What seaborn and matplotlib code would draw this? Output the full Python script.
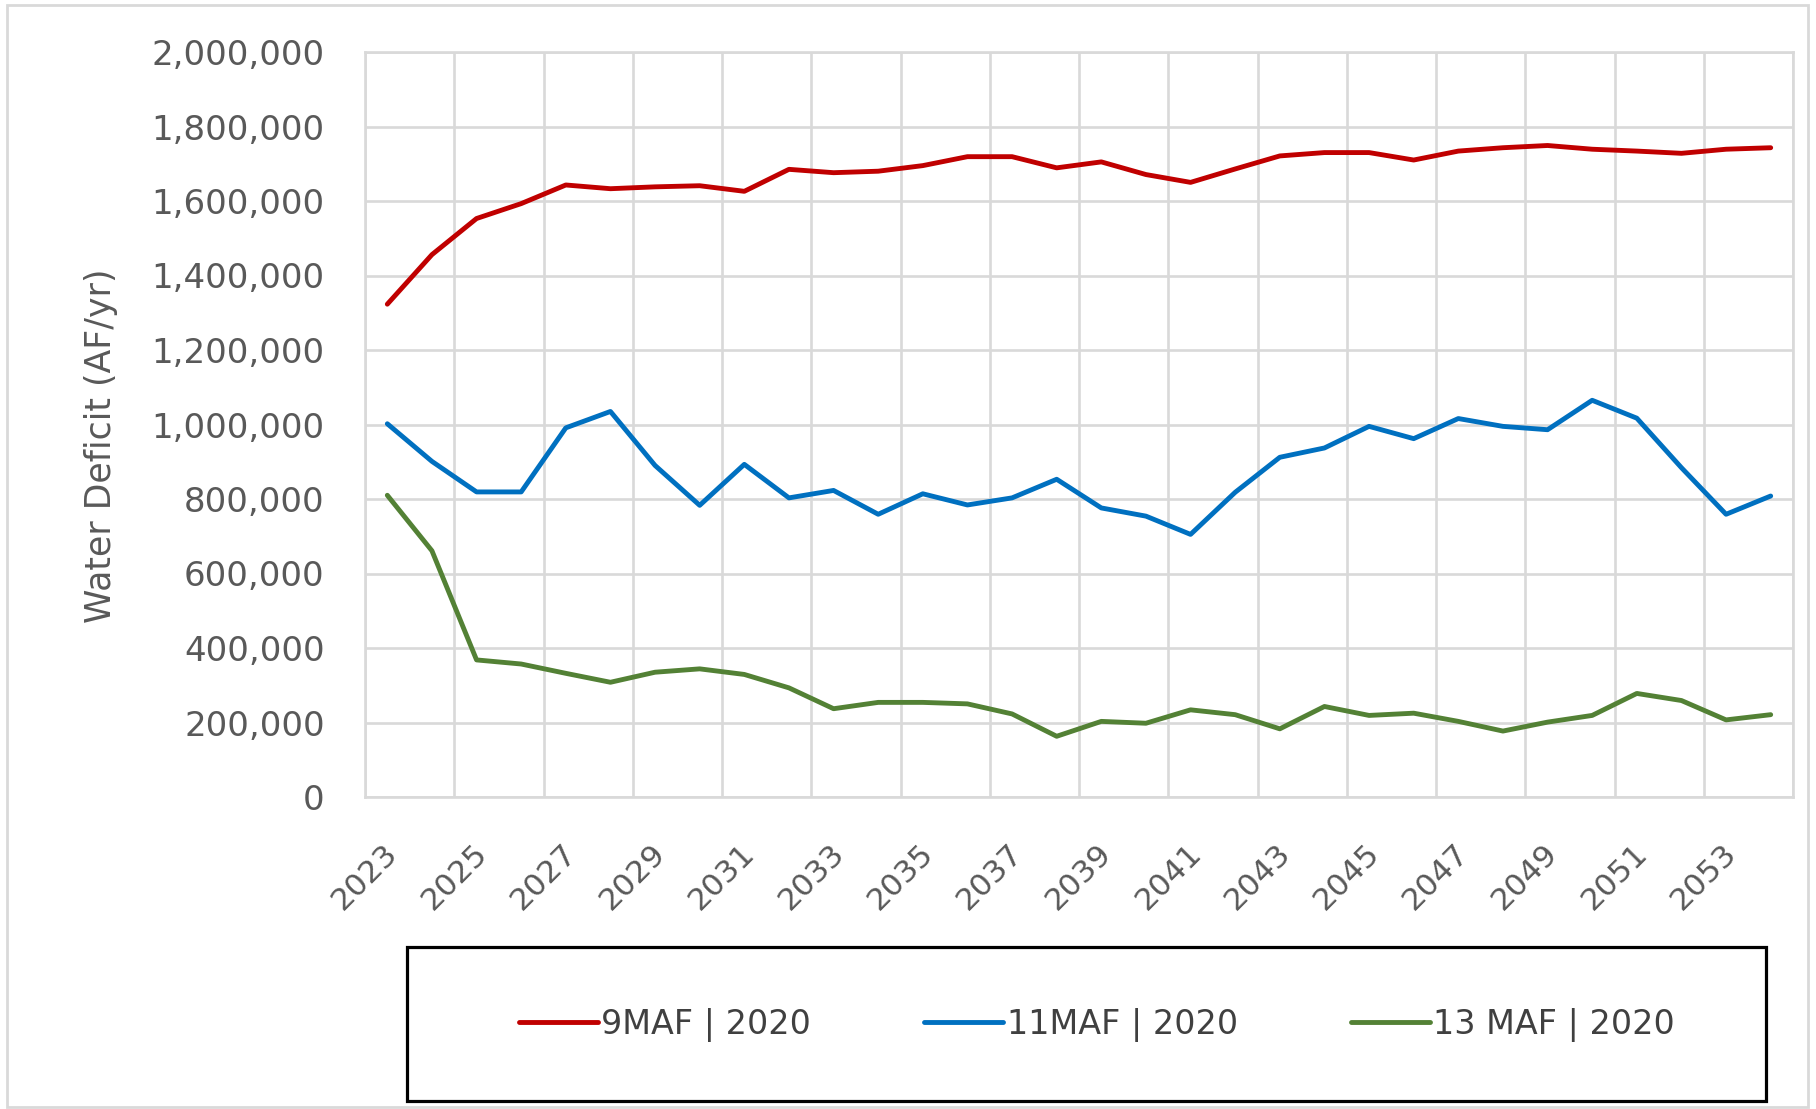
import matplotlib
matplotlib.use("Agg")
import matplotlib.pyplot as plt
import matplotlib.ticker as mticker
import matplotlib.transforms as mtransforms
from matplotlib.patches import Rectangle
import seaborn as sns
import pandas as pd
import numpy as np

# ---------------- data ----------------
years = list(range(2023, 2055))

maf9 = [1323000, 1456000, 1553000, 1593000, 1643000, 1633000, 1638000, 1641000,
        1626000, 1685000, 1676000, 1680000, 1695000, 1719000, 1719000, 1689000,
        1705000, 1671000, 1650000, 1686000, 1721000, 1730000, 1730000, 1710000,
        1734000, 1743000, 1749000, 1739000, 1734000, 1728000, 1739000, 1743000]

maf11 = [1002000, 901000, 819000, 819000, 991000, 1035000, 890000, 783000,
         893000, 803000, 823000, 759000, 814000, 784000, 803000, 853000,
         776000, 754000, 705000, 818000, 912000, 937000, 995000, 962000,
         1016000, 995000, 986000, 1065000, 1017000, 884000, 759000, 808000]

maf13 = [810000, 661000, 368000, 357000, 332000, 308000, 335000, 344000,
         329000, 293000, 237000, 254000, 254000, 250000, 223000, 163000,
         203000, 198000, 234000, 221000, 183000, 243000, 219000, 225000,
         203000, 177000, 201000, 219000, 278000, 259000, 207000, 221000]

series_names = ["9MAF | 2020", "11MAF | 2020", "13 MAF | 2020"]
series_colors = ["#C00000", "#0070C0", "#538135"]
y_ticks = list(range(0, 2000001, 200000))
x_tick_years = list(range(2023, 2054, 2))

df = pd.DataFrame({
    "year": years * 3,
    "value": maf9 + maf11 + maf13,
    "series": [series_names[0]] * len(years) + [series_names[1]] * len(years)
              + [series_names[2]] * len(years),
})

# ---------------- style ----------------
sns.set_style("white")
plt.rcParams["font.family"] = ["DejaVu Sans"]

W, H = 1816, 1109
fig = plt.figure(figsize=(W / 100, H / 100), dpi=100)
fig.patch.set_facecolor("white")

# outer light border
fig.add_artist(Rectangle((7 / W, 1 - 1107 / H), (1808 - 7) / W, (1107 - 5) / H,
                         transform=fig.transFigure, fill=False,
                         edgecolor="#D9D9D9", linewidth=2.0, zorder=0))

L, R, T, B = 365, 1793, 52, 797
ax = fig.add_axes([L / W, 1 - B / H, (R - L) / W, (B - T) / H])

sns.lineplot(data=df, x="year", y="value", hue="series",
             hue_order=series_names, palette=dict(zip(series_names, series_colors)),
             linewidth=3.5, ax=ax, legend=True, zorder=3)

handles, labels = ax.get_legend_handles_labels()
ax.get_legend().remove()

ax.set_xlim(years[0] - 0.5, years[-1] + 0.5)
ax.set_ylim(0, 2000000)

grid_c = "#D9D9D9"
ax.set_yticks(y_ticks)
ax.yaxis.set_major_formatter(mticker.FuncFormatter(lambda v, p: f"{int(v):,}"))
ax.set_xticks(x_tick_years)
ax.set_xticklabels([str(y) for y in x_tick_years])
ax.set_xticks(np.arange(years[0] - 0.5, years[-1] + 1.0, 2.0), minor=True)

ax.grid(False)
ax.yaxis.grid(True, which="major", color=grid_c, linewidth=1.9)
ax.xaxis.grid(True, which="minor", color=grid_c, linewidth=1.9)
ax.set_axisbelow(True)
for s in ax.spines.values():
    s.set_visible(True)
    s.set_color(grid_c)
    s.set_linewidth(1.9)

ax.tick_params(axis="y", which="both", length=0, pad=29, labelsize=24.5,
               labelcolor="#595959")
ax.tick_params(axis="x", which="both", length=0, pad=37, labelsize=22.5,
               labelcolor="#595959")
shift = mtransforms.ScaledTranslation(0.06, 0, fig.dpi_scale_trans)
for lab in ax.get_xticklabels():
    lab.set_rotation(45)
    lab.set_ha("right")
    lab.set_va("center")
    lab.set_rotation_mode("anchor")
    lab.set_transform(lab.get_transform() + shift)

ax.set_xlabel("")
ax.set_ylabel("Water Deficit (AF/yr)", fontsize=25, color="#595959")
ax.yaxis.set_label_coords(-0.173, 0.471)

# legend frame
fig.add_artist(Rectangle((407 / W, 1 - 1101 / H), (1766 - 407) / W, (1101 - 947) / H,
                         transform=fig.transFigure, fill=False,
                         edgecolor="black", linewidth=2.3, zorder=1))
fig.legend(handles, labels, loc="center",
           bbox_to_anchor=(1097 / W, 1 - 1025 / H), ncol=3, frameon=False,
           fontsize=24, labelcolor="#404040", handlelength=2.37,
           handletextpad=0.1, columnspacing=3.4, borderpad=0)

fig.savefig("out.png", dpi=100, facecolor="white")
